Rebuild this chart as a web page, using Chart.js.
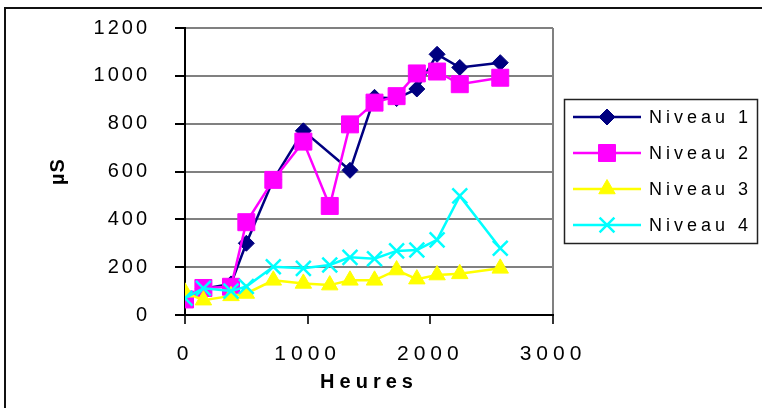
<!DOCTYPE html>
<html>
<head>
<meta charset="utf-8">
<script src="https://cdn.jsdelivr.net/npm/chart.js@4/dist/chart.umd.min.js"></script>
<style>
  html, body { margin: 0; padding: 0; background: #fff; }
  #wrap { width: 762px; height: 408px; position: relative; }
</style>
</head>
<body>
<div id="wrap"><canvas id="c" width="762" height="408"></canvas></div>
<script>
// Conductivity (µS) measured over time (hours) at four levels
const heures  = [0, 150, 375, 500, 720, 965, 1180, 1345, 1545, 1725, 1890, 2055, 2240, 2570];
const niveau1 = [70, 110, 130, 300, 565, 770, null, 605, 910, 905, 945, 1090, 1035, 1055];
const niveau2 = [65, 113, 118, 388, 565, 725, 456, 797, 888, 915, 1010, 1018, 965, 992];
const niveau3 = [95, 62, 80, 90, 145, 132, 125, 145, 145, 188, 150, 167, 172, 195];
const niveau4 = [70, 112, 100, 119, 202, 195, 209, 241, 235, 268, 272, 314, 498, 279];
const seriesNames = ['Niveau 1', 'Niveau 2', 'Niveau 3', 'Niveau 4'];
const yTicks = [0, 200, 400, 600, 800, 1000, 1200];
const xTicks = [0, 1000, 2000, 3000];
const xTitle = 'Heures';
const yTitle = 'µS';

const FONT = "'Liberation Sans', Arial, sans-serif";

function points(values) {
  return heures.map((h, i) => ({ x: h, y: values[i] }));
}

function series(label, values, color, style, radius, order, extra) {
  return Object.assign({
    label: label,
    data: points(values),
    borderColor: color,
    backgroundColor: color,
    pointBackgroundColor: color,
    pointBorderColor: color,
    pointStyle: style,
    pointRadius: radius,
    pointHoverRadius: radius,
    pointBorderWidth: 1,
    borderWidth: 2.5,
    tension: 0,
    fill: false,
    order: order
  }, extra || {});
}

// wrap a scale's drawing method so its text gets letter spacing
function spaced(fn, spacing) {
  return function () {
    const c = this.ctx;
    const prev = c.letterSpacing;
    c.letterSpacing = spacing;
    fn.apply(this, arguments);
    c.letterSpacing = prev || '0px';
  };
}

const spacingPlugin = {
  id: 'spacing',
  afterUpdate(chart) {
    const sx = chart.scales.x, sy = chart.scales.y;
    if (!sx._sp) {
      sx.drawLabels = spaced(sx.drawLabels, '5px');
      sx.drawTitle = spaced(sx.drawTitle, '5px');
      sx._sp = true;
    }
    if (!sy._sp) {
      sy.drawLabels = spaced(sy.drawLabels, '3px');
      sy.drawTitle = spaced(sy.drawTitle, '1px');
      sy._sp = true;
    }
  }
};

// outer frame lines
const framePlugin = {
  id: 'frame',
  beforeDraw(chart) {
    const ctx = chart.ctx;
    ctx.save();
    ctx.fillStyle = '#fff';
    ctx.fillRect(0, 0, chart.width, chart.height);
    ctx.strokeStyle = '#111';
    ctx.lineWidth = 2;
    ctx.beginPath();
    ctx.moveTo(5, chart.height);
    ctx.lineTo(5, 8);
    ctx.lineTo(chart.width, 8);
    ctx.stroke();
    ctx.restore();
  }
};

// boxed legend with line + marker samples
const legendPlugin = {
  id: 'boxLegend',
  afterDraw(chart) {
    const ctx = chart.ctx;
    ctx.save();
    ctx.strokeStyle = '#222';
    ctx.lineWidth = 1.5;
    ctx.strokeRect(564.5, 99.5, 193, 144);
    chart.data.datasets.forEach((ds, i) => {
      const y = 117 + i * 36;
      ctx.strokeStyle = ds.borderColor;
      ctx.lineWidth = ds.borderWidth;
      ctx.beginPath();
      ctx.moveTo(573, y);
      ctx.lineTo(641, y);
      ctx.stroke();
      ctx.fillStyle = ds.pointBackgroundColor;
      ctx.strokeStyle = ds.pointBorderColor;
      ctx.lineWidth = ds.pointBorderWidth;
      Chart.helpers.drawPoint(ctx, {
        pointStyle: ds.pointStyle,
        radius: ds.pointRadius,
        borderWidth: ds.pointBorderWidth,
        rotation: 0
      }, 607, y);
      ctx.fillStyle = '#000';
      ctx.font = '18px ' + FONT;
      ctx.letterSpacing = '4px';
      ctx.textAlign = 'left';
      ctx.textBaseline = 'middle';
      ctx.fillText(ds.label, 649, y + 1);
      ctx.letterSpacing = '0px';
    });
    ctx.restore();
  }
};

new Chart(document.getElementById('c'), {
  type: 'line',
  data: {
    datasets: [
      series(seriesNames[0], niveau1, '#000080', 'rectRot', 8, 3, { spanGaps: true }),
      series(seriesNames[1], niveau2, '#FF00FF', 'rect', 12, 2),
      series(seriesNames[2], niveau3, '#FFFF00', 'triangle', 9.5, 1),
      series(seriesNames[3], niveau4, '#00FFFF', 'crossRot', 10.5, 0, { pointBorderWidth: 2.5 })
    ]
  },
  options: {
    responsive: false,
    animation: false,
    devicePixelRatio: 1,
    layout: { autoPadding: false, padding: { left: 0, top: 28, right: 209, bottom: 0 } },
    plugins: {
      legend: { display: false },
      tooltip: { enabled: false }
    },
    scales: {
      x: {
        type: 'linear',
        min: xTicks[0],
        max: xTicks[xTicks.length - 1],
        afterBuildTicks(scale) { scale.ticks = xTicks.map(v => ({ value: v })); },
        afterFit(scale) { scale.height = 93; },
        ticks: {
          color: '#000',
          padding: 18,
          font: { family: FONT, size: 21 },
          maxRotation: 0,
          autoSkip: false,
          callback: v => String(v)
        },
        grid: {
          color: ctx => (ctx.tick && ctx.tick.value === 3000) ? '#808080' : 'rgba(0,0,0,0)',
          lineWidth: 2,
          tickColor: '#333',
          tickLength: 9
        },
        border: { color: '#000', width: 2 },
        title: {
          display: true,
          text: xTitle,
          color: '#000',
          font: { family: FONT, size: 20, weight: 'bold' },
          padding: { top: 0, bottom: 14 }
        }
      },
      y: {
        min: yTicks[0],
        max: yTicks[yTicks.length - 1],
        afterBuildTicks(scale) { scale.ticks = yTicks.map(v => ({ value: v })); },
        afterFit(scale) {
          scale.width = 185;
          scale.paddingTop = 0;
          scale.paddingBottom = 0;
        },
        ticks: {
          color: '#000',
          padding: 25,
          font: { family: FONT, size: 20 },
          callback: v => String(v)
        },
        grid: {
          color: '#808080',
          lineWidth: 2,
          tickColor: '#000',
          tickLength: 10
        },
        border: { color: '#000', width: 2 },
        title: {
          display: true,
          text: yTitle,
          color: '#000',
          font: { family: FONT, size: 20, weight: 'bold' },
          padding: { top: 46, bottom: 0 }
        }
      }
    }
  },
  plugins: [spacingPlugin, framePlugin, legendPlugin]
});
</script>
</body>
</html>
